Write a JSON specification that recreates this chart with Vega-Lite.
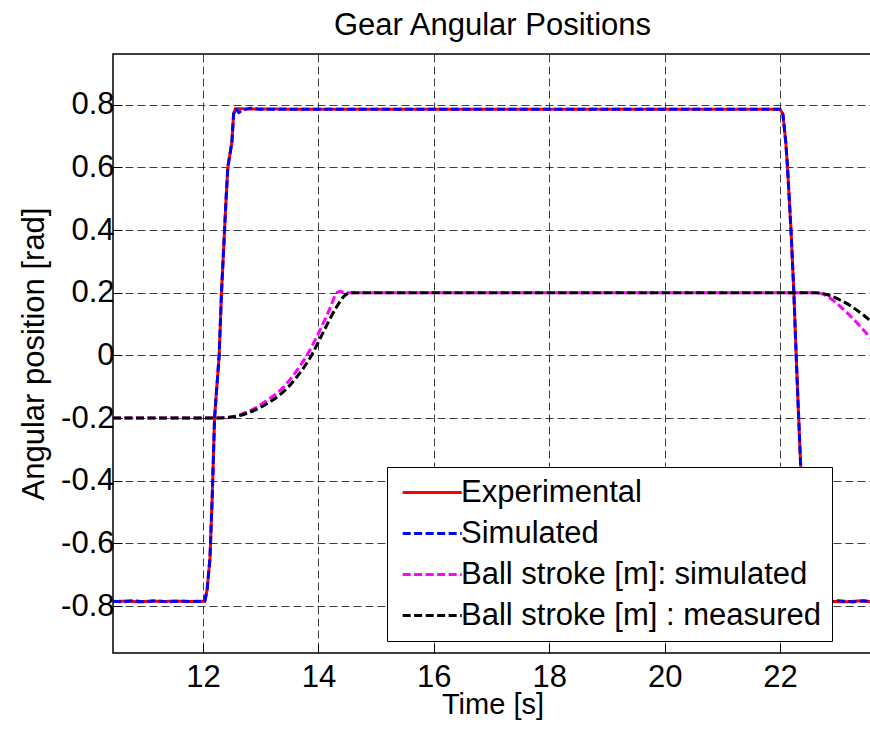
{
  "$schema": "https://vega.github.io/schema/vega-lite/v6.json",
  "width": 759,
  "height": 599,
  "autosize": {"type": "none"},
  "padding": {"left": 113, "top": 54, "right": 0, "bottom": 78},
  "background": "white",
  "title": {"text": "Gear Angular Positions", "fontSize": 31, "font": "Liberation Sans", "fontWeight": "normal", "color": "black", "offset": 12, "anchor": "middle"},
  "config": {
    "view": {"stroke": "black", "strokeWidth": 1.5},
    "axis": {
      "grid": true, "gridDash": [8, 4], "gridColor": "black", "gridOpacity": 0.75, "gridWidth": 1,
      "tickSize": -9, "tickColor": "black", "tickWidth": 1, "domain": false,
      "labelFontSize": 31, "labelFont": "Liberation Sans", "labelColor": "black",
      "titleFontSize": 31, "titleFont": "Liberation Sans", "titleFontWeight": "normal", "titleColor": "black"
    },
    "legend": {
      "symbolType": "M-1,0H5", "symbolStrokeWidth": 3, "symbolSize": 387,
      "labelFontSize": 31, "labelFont": "Liberation Sans", "labelColor": "black", "labelLimit": 500,
      "fillColor": "white", "strokeColor": "black", "padding": 10, "cornerRadius": 0,
      "rowPadding": 9, "labelOffset": 33
    }
  },
  "data": {"values": [
    {"series": "Experimental", "t": 10.44, "v": -0.786},
    {"series": "Experimental", "t": 10.7, "v": -0.784},
    {"series": "Experimental", "t": 10.9, "v": -0.787},
    {"series": "Experimental", "t": 11.1, "v": -0.784},
    {"series": "Experimental", "t": 11.3, "v": -0.786},
    {"series": "Experimental", "t": 11.5, "v": -0.784},
    {"series": "Experimental", "t": 11.7, "v": -0.786},
    {"series": "Experimental", "t": 11.9, "v": -0.785},
    {"series": "Experimental", "t": 12.03, "v": -0.785},
    {"series": "Experimental", "t": 12.07, "v": -0.75},
    {"series": "Experimental", "t": 12.12, "v": -0.65},
    {"series": "Experimental", "t": 12.16, "v": -0.45},
    {"series": "Experimental", "t": 12.2, "v": -0.2},
    {"series": "Experimental", "t": 12.24, "v": -0.1},
    {"series": "Experimental", "t": 12.28, "v": 0.0},
    {"series": "Experimental", "t": 12.32, "v": 0.2},
    {"series": "Experimental", "t": 12.36, "v": 0.35},
    {"series": "Experimental", "t": 12.4, "v": 0.5},
    {"series": "Experimental", "t": 12.43, "v": 0.6},
    {"series": "Experimental", "t": 12.5, "v": 0.68},
    {"series": "Experimental", "t": 12.53, "v": 0.77},
    {"series": "Experimental", "t": 12.56, "v": 0.787},
    {"series": "Experimental", "t": 13.5, "v": 0.786},
    {"series": "Experimental", "t": 16.0, "v": 0.786},
    {"series": "Experimental", "t": 19.0, "v": 0.786},
    {"series": "Experimental", "t": 22.0, "v": 0.786},
    {"series": "Experimental", "t": 22.05, "v": 0.77},
    {"series": "Experimental", "t": 22.1, "v": 0.68},
    {"series": "Experimental", "t": 22.13, "v": 0.6},
    {"series": "Experimental", "t": 22.19, "v": 0.4},
    {"series": "Experimental", "t": 22.24, "v": 0.2},
    {"series": "Experimental", "t": 22.28, "v": 0.0},
    {"series": "Experimental", "t": 22.31, "v": -0.14},
    {"series": "Experimental", "t": 22.36, "v": -0.36},
    {"series": "Experimental", "t": 22.42, "v": -0.6},
    {"series": "Experimental", "t": 22.48, "v": -0.78},
    {"series": "Experimental", "t": 22.52, "v": -0.786},
    {"series": "Experimental", "t": 22.8, "v": -0.784},
    {"series": "Experimental", "t": 23.1, "v": -0.787},
    {"series": "Experimental", "t": 23.35, "v": -0.784},
    {"series": "Experimental", "t": 23.6, "v": -0.786},

    {"series": "Simulated", "t": 10.44, "v": -0.785},
    {"series": "Simulated", "t": 10.6, "v": -0.787},
    {"series": "Simulated", "t": 10.8, "v": -0.783},
    {"series": "Simulated", "t": 11.0, "v": -0.787},
    {"series": "Simulated", "t": 11.2, "v": -0.783},
    {"series": "Simulated", "t": 11.4, "v": -0.787},
    {"series": "Simulated", "t": 11.6, "v": -0.784},
    {"series": "Simulated", "t": 11.8, "v": -0.786},
    {"series": "Simulated", "t": 12.03, "v": -0.785},
    {"series": "Simulated", "t": 12.07, "v": -0.75},
    {"series": "Simulated", "t": 12.12, "v": -0.65},
    {"series": "Simulated", "t": 12.16, "v": -0.45},
    {"series": "Simulated", "t": 12.2, "v": -0.2},
    {"series": "Simulated", "t": 12.24, "v": -0.1},
    {"series": "Simulated", "t": 12.28, "v": 0.0},
    {"series": "Simulated", "t": 12.32, "v": 0.2},
    {"series": "Simulated", "t": 12.36, "v": 0.35},
    {"series": "Simulated", "t": 12.4, "v": 0.5},
    {"series": "Simulated", "t": 12.43, "v": 0.6},
    {"series": "Simulated", "t": 12.5, "v": 0.68},
    {"series": "Simulated", "t": 12.53, "v": 0.77},
    {"series": "Simulated", "t": 12.56, "v": 0.788},
    {"series": "Simulated", "t": 12.62, "v": 0.775},
    {"series": "Simulated", "t": 12.68, "v": 0.783},
    {"series": "Simulated", "t": 12.85, "v": 0.79},
    {"series": "Simulated", "t": 12.95, "v": 0.786},
    {"series": "Simulated", "t": 16.0, "v": 0.786},
    {"series": "Simulated", "t": 19.0, "v": 0.786},
    {"series": "Simulated", "t": 22.0, "v": 0.786},
    {"series": "Simulated", "t": 22.05, "v": 0.77},
    {"series": "Simulated", "t": 22.1, "v": 0.68},
    {"series": "Simulated", "t": 22.13, "v": 0.6},
    {"series": "Simulated", "t": 22.19, "v": 0.4},
    {"series": "Simulated", "t": 22.24, "v": 0.2},
    {"series": "Simulated", "t": 22.28, "v": 0.0},
    {"series": "Simulated", "t": 22.31, "v": -0.14},
    {"series": "Simulated", "t": 22.36, "v": -0.36},
    {"series": "Simulated", "t": 22.42, "v": -0.6},
    {"series": "Simulated", "t": 22.48, "v": -0.78},
    {"series": "Simulated", "t": 22.52, "v": -0.785},
    {"series": "Simulated", "t": 22.8, "v": -0.787},
    {"series": "Simulated", "t": 23.0, "v": -0.783},
    {"series": "Simulated", "t": 23.25, "v": -0.787},
    {"series": "Simulated", "t": 23.45, "v": -0.783},
    {"series": "Simulated", "t": 23.6, "v": -0.786},

    {"series": "Ball stroke [m]: simulated", "t": 10.44, "v": -0.2},
    {"series": "Ball stroke [m]: simulated", "t": 12.2, "v": -0.2},
    {"series": "Ball stroke [m]: simulated", "t": 12.5, "v": -0.196},
    {"series": "Ball stroke [m]: simulated", "t": 12.8, "v": -0.178},
    {"series": "Ball stroke [m]: simulated", "t": 13.1, "v": -0.145},
    {"series": "Ball stroke [m]: simulated", "t": 13.4, "v": -0.1},
    {"series": "Ball stroke [m]: simulated", "t": 13.6, "v": -0.055},
    {"series": "Ball stroke [m]: simulated", "t": 13.8, "v": 0.0},
    {"series": "Ball stroke [m]: simulated", "t": 14.0, "v": 0.07},
    {"series": "Ball stroke [m]: simulated", "t": 14.2, "v": 0.15},
    {"series": "Ball stroke [m]: simulated", "t": 14.32, "v": 0.2},
    {"series": "Ball stroke [m]: simulated", "t": 14.38, "v": 0.205},
    {"series": "Ball stroke [m]: simulated", "t": 14.45, "v": 0.2},
    {"series": "Ball stroke [m]: simulated", "t": 22.6, "v": 0.2},
    {"series": "Ball stroke [m]: simulated", "t": 22.7, "v": 0.198},
    {"series": "Ball stroke [m]: simulated", "t": 22.85, "v": 0.185},
    {"series": "Ball stroke [m]: simulated", "t": 23.05, "v": 0.155},
    {"series": "Ball stroke [m]: simulated", "t": 23.25, "v": 0.12},
    {"series": "Ball stroke [m]: simulated", "t": 23.45, "v": 0.08},
    {"series": "Ball stroke [m]: simulated", "t": 23.6, "v": 0.05},

    {"series": "Ball stroke [m] : measured", "t": 10.44, "v": -0.2},
    {"series": "Ball stroke [m] : measured", "t": 12.2, "v": -0.2},
    {"series": "Ball stroke [m] : measured", "t": 12.5, "v": -0.197},
    {"series": "Ball stroke [m] : measured", "t": 12.8, "v": -0.182},
    {"series": "Ball stroke [m] : measured", "t": 13.1, "v": -0.155},
    {"series": "Ball stroke [m] : measured", "t": 13.4, "v": -0.115},
    {"series": "Ball stroke [m] : measured", "t": 13.6, "v": -0.075},
    {"series": "Ball stroke [m] : measured", "t": 13.88, "v": 0.0},
    {"series": "Ball stroke [m] : measured", "t": 14.1, "v": 0.08},
    {"series": "Ball stroke [m] : measured", "t": 14.3, "v": 0.15},
    {"series": "Ball stroke [m] : measured", "t": 14.45, "v": 0.19},
    {"series": "Ball stroke [m] : measured", "t": 14.55, "v": 0.2},
    {"series": "Ball stroke [m] : measured", "t": 22.6, "v": 0.2},
    {"series": "Ball stroke [m] : measured", "t": 22.7, "v": 0.199},
    {"series": "Ball stroke [m] : measured", "t": 22.85, "v": 0.192},
    {"series": "Ball stroke [m] : measured", "t": 23.05, "v": 0.176},
    {"series": "Ball stroke [m] : measured", "t": 23.25, "v": 0.155},
    {"series": "Ball stroke [m] : measured", "t": 23.45, "v": 0.128},
    {"series": "Ball stroke [m] : measured", "t": 23.6, "v": 0.105}
  ]},
  "encoding": {
    "x": {"field": "t", "type": "quantitative",
      "scale": {"domain": [10.44, 23.594], "nice": false, "zero": false},
      "axis": {"values": [12, 14, 16, 18, 20, 22], "title": "Time [s]", "labelPadding": 18, "titlePadding": -2, "titleFontSize": 29}},
    "y": {"field": "v", "type": "quantitative",
      "scale": {"domain": [-0.95, 0.962], "nice": false, "zero": false},
      "axis": {"values": [-0.8, -0.6, -0.4, -0.2, 0, 0.2, 0.4, 0.6, 0.8], "title": "Angular position [rad]", "labelPadding": 8, "titlePadding": 10,
        "labelExpr": "datum.value < 0 ? '-' + format(-datum.value, '.1f') : (datum.value == 0 ? '0' : format(datum.value, '.1f'))"}},
    "color": {"field": "series", "type": "nominal",
      "scale": {"domain": ["Experimental", "Simulated", "Ball stroke [m]: simulated", "Ball stroke [m] : measured"], "range": ["#ff0000", "#0000ff", "#ff00ff", "#000000"]},
      "legend": {"title": null, "orient": "none", "legendX": 274, "legendY": 413}},
    "strokeDash": {"field": "series", "type": "nominal",
      "scale": {"domain": ["Experimental", "Simulated", "Ball stroke [m]: simulated", "Ball stroke [m] : measured"], "range": [[1, 0], [8, 3.5], [8, 3.5], [8, 3.5]]},
      "legend": {"title": null, "orient": "none", "legendX": 274, "legendY": 413}}
  },
  "layer": [
    {"transform": [{"filter": "datum.series === 'Experimental'"}], "mark": {"type": "line", "strokeWidth": 3, "interpolate": "linear", "clip": true}},
    {"transform": [{"filter": "datum.series === 'Simulated'"}], "mark": {"type": "line", "strokeWidth": 3, "interpolate": "linear", "clip": true}},
    {"transform": [{"filter": "datum.series === 'Ball stroke [m]: simulated'"}], "mark": {"type": "line", "strokeWidth": 3, "interpolate": "monotone", "clip": true}},
    {"transform": [{"filter": "datum.series === 'Ball stroke [m] : measured'"}], "mark": {"type": "line", "strokeWidth": 3, "interpolate": "monotone", "clip": true}}
  ]
}
